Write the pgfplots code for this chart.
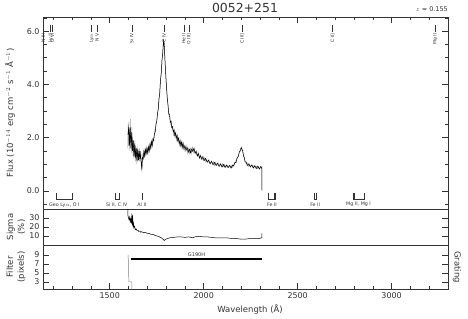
\documentclass[border=0pt]{standalone}
\usepackage{fontspec}
\setmainfont{DejaVu Sans}
\usepackage{pgfplots}
\pgfplotsset{compat=1.18}
\definecolor{fg}{gray}{0.2}
\newcommand{\topline}[2]{%
  \draw[fg, line width=0.4bp] (axis cs:#1,6.24) -- (axis cs:#1,5.98);
  \node[rotate=90, anchor=east, font=\fontsize{4.5}{4.5}\selectfont, text=fg, inner sep=0.4bp] at (axis cs:#1,5.93) {#2};}
\begin{document}
\begin{tikzpicture}[x=1bp,y=1bp]
\path[use as bounding box] (0,0) rectangle (468,318);
\pgfplotsset{
  myax/.style={
    scale only axis, width=405bp,
    xmin=1145, xmax=3300,
    axis line style={fg, line width=0.6bp},
    every tick/.style={fg, line width=0.5bp},
    major tick length=6bp, minor tick length=3.5bp,
    tick label style={font=\fontsize{8}{8}\selectfont, text=fg},
    /pgf/number format/assume math mode=true,
    /pgf/number format/1000 sep={},
    clip mode=individual,
    anchor=south west,
  }
}
% ---------------- main flux panel
\begin{axis}[myax, at={(43bp,109bp)}, height=192bp,
  ymin=-0.68, ymax=6.53,
  ytick={0,2,4,6},
  minor ytick={-0.5,0.5,1,1.5,2.5,3,3.5,4.5,5,5.5,6.5},
  yticklabel style={/pgf/number format/.cd, fixed, fixed zerofill, precision=1},
  xtick pos=right, xtick={1500,2000,2500,3000},
  minor xtick={1200,1300,...,3300}, xticklabels={},
]
\addplot[black!40, line width=0.4bp] coordinates {
(1596,1.6)(1598,2.5)(1600,1.7)(1602,2.6)(1604,1.5)(1606,2.3)(1608,1.8)(1610,2.7)(1612,1.6)(1614,2.2)
(1616,1.4)(1618,2.4)(1620,1.5)(1622,2.0)(1624,1.3)(1626,1.9)(1628,1.2)(1630,1.8)(1632,1.3)(1634,1.9)
(1636,1.1)(1638,1.7)(1640,1.2)(1642,1.6)(1644,1.0)(1646,1.7)(1648,1.1)(1650,1.6)(1652,1.2)(1654,1.5)
(1656,1.1)(1658,1.6)(1660,1.2)(1663,1.5)(1666,1.1)(1669,0.9)(1671,0.7)(1673,1.0)(1676,1.4)(1679,1.2)
(1682,1.5)(1685,1.3)(1688,1.6)(1691,1.3)(1694,1.7)(1697,1.4)(1700,1.6)(1704,1.4)(1708,1.7)(1712,1.5)
(1716,1.8)(1720,1.6)(1724,1.9)(1728,1.7)(1732,2.0)(1736,2.0)(1740,2.3)(1744,2.3)(1748,2.6)(1752,2.7)
(1756,3.0)(1760,3.2)(1764,3.6)(1768,3.9)(1772,4.3)(1776,4.6)(1780,5.1)(1783,5.3)(1786,5.7)(1788,5.5)
(1790,5.6)(1793,5.1)(1796,4.6)(1800,4.1)(1804,3.7)(1808,3.3)(1812,3.1)(1816,2.8)(1820,2.8)(1824,2.5)
(1828,2.6)(1832,2.3)(1836,2.4)(1840,2.1)(1844,2.3)(1848,2.0)(1852,2.2)(1856,1.9)(1860,2.1)(1864,1.8)
(1868,2.0)(1872,1.7)(1876,1.9)(1880,1.6)(1884,1.9)(1888,1.6)(1892,1.8)(1896,1.5)(1900,1.7)(1905,1.5)
(1910,1.7)(1915,1.4)(1920,1.6)(1925,1.4)(1930,1.6)(1935,1.4)(1940,1.65)(1945,1.45)(1950,1.6)(1955,1.4)
(1960,1.5)(1965,1.3)(1970,1.45)(1975,1.25)(1980,1.35)(1986,1.2)(1992,1.3)(1998,1.15)(2004,1.25)(2010,1.1)
(2016,1.2)(2022,1.05)(2028,1.15)(2034,1.0)(2040,1.12)(2046,1.0)(2052,1.1)(2058,0.95)(2064,1.08)(2070,0.95)
(2076,1.05)(2082,0.92)(2088,1.03)(2094,0.9)(2100,1.02)(2106,0.9)(2112,1.0)(2118,0.88)(2124,0.98)(2130,0.87)
(2136,0.97)(2142,0.86)(2148,0.95)(2154,0.88)(2160,1.0)(2166,1.0)(2172,1.15)(2178,1.2)(2184,1.35)(2190,1.45)
(2196,1.6)(2200,1.62)(2204,1.58)(2208,1.45)(2212,1.35)(2216,1.2)(2220,1.15)(2226,1.0)(2232,1.05)(2238,0.92)
(2244,1.0)(2250,0.9)(2256,0.97)(2262,0.88)(2268,0.95)(2274,0.85)(2280,0.93)(2286,0.83)(2292,0.92)(2298,0.82)
(2304,0.92)(2308,0.85)(2310,0.9)(2310,0.02)};
\addplot[black, line width=0.5bp] coordinates {
(1597,2.1)(1601,2.4)(1605,1.7)(1609,2.4)(1613,1.6)(1617,2.2)(1621,1.5)(1625,1.9)(1629,1.3)(1633,1.75)
(1637,1.25)(1641,1.6)(1645,1.15)(1649,1.55)(1653,1.15)(1657,1.5)(1661,1.2)(1665,1.4)(1668,1.05)(1671,0.8)
(1674,1.25)(1678,1.2)(1682,1.5)(1686,1.3)(1690,1.55)(1694,1.4)(1698,1.6)(1702,1.42)(1706,1.65)(1710,1.5)
(1714,1.75)(1718,1.6)(1722,1.85)(1726,1.7)(1730,1.95)(1734,1.88)(1738,2.15)(1742,2.2)(1746,2.5)(1750,2.6)
(1754,2.9)(1758,3.05)(1762,3.45)(1766,3.65)(1770,4.15)(1774,4.4)(1778,4.9)(1782,5.15)(1785,5.5)(1787,5.65)
(1789,5.55)(1791,5.35)(1794,4.9)(1798,4.4)(1802,3.9)(1806,3.5)(1810,3.25)(1814,2.88)(1818,2.88)(1822,2.58)
(1826,2.62)(1830,2.38)(1834,2.42)(1838,2.22)(1842,2.28)(1846,2.08)(1850,2.18)(1854,1.98)(1858,2.08)(1862,1.88)
(1866,1.98)(1870,1.78)(1874,1.88)(1878,1.7)(1882,1.83)(1886,1.65)(1890,1.78)(1895,1.58)(1900,1.7)(1906,1.52)
(1912,1.63)(1918,1.45)(1924,1.57)(1930,1.43)(1936,1.57)(1942,1.48)(1948,1.6)(1954,1.41)(1960,1.49)(1966,1.31)
(1972,1.4)(1978,1.23)(1984,1.33)(1990,1.18)(1996,1.28)(2002,1.13)(2010,1.22)(2018,1.08)(2026,1.16)(2034,1.02)
(2042,1.11)(2050,0.98)(2058,1.07)(2066,0.95)(2074,1.04)(2082,0.92)(2090,1.01)(2098,0.9)(2106,0.99)(2114,0.88)
(2122,0.97)(2130,0.87)(2138,0.96)(2146,0.86)(2154,0.97)(2160,0.93)(2166,1.08)(2172,1.06)(2178,1.25)(2184,1.28)
(2190,1.47)(2195,1.5)(2200,1.63)(2204,1.55)(2208,1.5)(2212,1.3)(2216,1.26)(2220,1.09)(2226,1.09)(2232,0.95)
(2240,1.02)(2248,0.9)(2256,0.98)(2264,0.86)(2272,0.95)(2280,0.84)(2288,0.93)(2296,0.82)(2304,0.92)(2309,0.84)
(2310,0.02)};
% emission-line markers (redshifted)
\topline{1146}{N III}
\topline{1185}{Ly$\beta$}
\topline{1194}{O VI}
\topline{1404}{Ly$\alpha$}
\topline{1432}{N V}
\topline{1617}{Si IV}
\topline{1789}{C IV}
\topline{1894}{He II}
\topline{1921}{O III]}
\topline{2205}{C III]}
\topline{2686}{C II]}
\topline{3232}{Mg II}
% galactic absorption markers
\begin{scope}[fg, line width=0.4bp]
\draw (axis cs:1216,-0.07) -- (axis cs:1216,-0.33) -- (axis cs:1302,-0.33) -- (axis cs:1302,-0.07);
\draw (axis cs:1527,-0.07) -- (axis cs:1527,-0.33) -- (axis cs:1548,-0.33) -- (axis cs:1548,-0.07);
\draw (axis cs:1671,-0.07) -- (axis cs:1671,-0.33);
\draw (axis cs:2344,-0.07) -- (axis cs:2344,-0.33) -- (axis cs:2382,-0.33) -- (axis cs:2382,-0.07);
\draw (axis cs:2374,-0.07) -- (axis cs:2374,-0.33);
\draw (axis cs:2587,-0.07) -- (axis cs:2587,-0.33) -- (axis cs:2600,-0.33) -- (axis cs:2600,-0.07);
\draw (axis cs:2796,-0.07) -- (axis cs:2796,-0.33) -- (axis cs:2852,-0.33) -- (axis cs:2852,-0.07);
\draw (axis cs:2803,-0.07) -- (axis cs:2803,-0.33);
\end{scope}
\begin{scope}[every node/.style={font=\fontsize{4.8}{4.8}\selectfont, text=fg, inner sep=0pt}]
\node at (axis cs:1259,-0.52) {Geo Ly$\alpha$, O I};
\node at (axis cs:1537,-0.52) {Si II, C IV};
\node at (axis cs:1671,-0.52) {Al II};
\node at (axis cs:2363,-0.52) {Fe II};
\node at (axis cs:2593,-0.52) {Fe II};
\node at (axis cs:2824,-0.52) {Mg II, Mg I};
\end{scope}
\end{axis}
% ---------------- sigma panel
\begin{axis}[myax, at={(43bp,73bp)}, height=36bp,
  ymin=0, ymax=40, ytick={10,20,30}, xtick=\empty,
]
\addplot[black, line width=0.5bp] coordinates {
(1596,45)(1597,33)(1600,30)(1603,28)(1606,31)(1609,26)(1612,29)(1615,24)(1618,35)(1620,22)
(1622,33)(1624,20)(1626,26)(1628,19)(1632,21)(1636,17)(1640,18)(1645,16)(1650,16.5)(1655,15)
(1660,15.5)(1665,14.2)(1670,14.8)(1680,13.6)(1690,14)(1700,12.8)(1710,12.9)(1720,11.8)(1730,11.9)(1740,10.8)
(1760,9.5)(1775,8)(1785,6)(1790,5)
(1795,6)(1805,7)(1820,8)(1840,8.5)(1860,9)(1880,9)(1900,8.5)(1920,9)(1940,8)(1960,9.5)
(1980,9.5)(2000,9)(2020,9)(2040,8.5)(2060,8)(2080,8)(2100,8)(2120,8)(2140,7.5)(2160,7.5)
(2180,7)(2200,6.5)(2220,6.5)(2240,7)(2260,7)(2280,7)(2300,7.5)(2309,8)(2310,13)};
\end{axis}
% ---------------- filter panel
\begin{axis}[myax, at={(43bp,29bp)}, height=44bp,
  ymin=1.4, ymax=11.2, ytick={3,5,7,9},
  xtick pos=left, xtick={1500,2000,2500,3000},
  minor xtick={1200,1300,...,3300},
]
\addplot[black!50, line width=0.5bp] coordinates {(1598,9)(1602,3)(1618,3)(1618,1.4)};
\addplot[black, line width=2bp] coordinates {(1615,8)(2309,8)};
\node[font=\fontsize{5}{5}\selectfont, text=fg, inner sep=0pt] at (axis cs:1962,9.0) {G190H};
\end{axis}
% ---------------- titles and labels
\node[font=\fontsize{12.5}{12.5}\selectfont, text=fg] at (245,310.5) {0052+251};
\node[font=\fontsize{6.5}{6.5}\selectfont, text=fg, anchor=east, inner sep=0pt] at (448,308.5) {$z$ = 0.155};
\node[font=\fontsize{8.5}{8.5}\selectfont, text=fg, rotate=90] at (10,205)
  {Flux (10$^{-14}$ erg cm$^{-2}$ s$^{-1}$ Å$^{-1}$)};
\node[font=\fontsize{8.5}{11}\selectfont, text=fg, rotate=90, align=center] at (16,91) {Sigma\\(\%)};
\node[font=\fontsize{8.5}{11}\selectfont, text=fg, rotate=90, align=center] at (16,51) {Filter\\(pixels)};
\node[font=\fontsize{8.5}{8.5}\selectfont, text=fg, rotate=-90] at (457,51) {Grating};
\node[font=\fontsize{8.5}{8.5}\selectfont, text=fg] at (250,9) {Wavelength (Å)};
\end{tikzpicture}
\end{document}
